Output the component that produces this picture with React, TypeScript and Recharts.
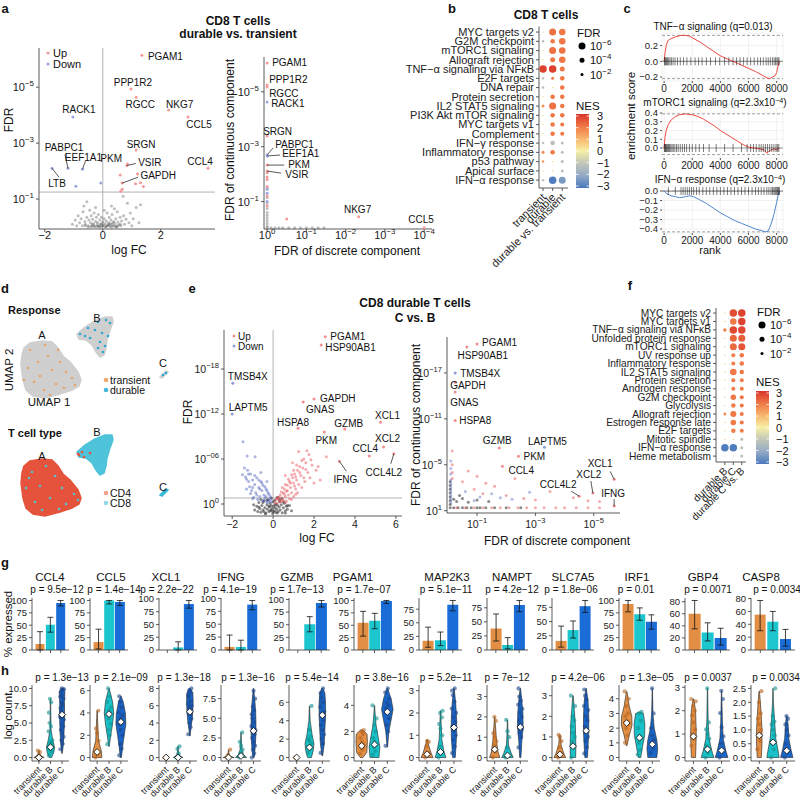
import React from 'react';
import {
  ScatterChart, Scatter, XAxis, YAxis, ReferenceLine, ComposedChart, Line, CartesianGrid,
  BarChart, Bar, ErrorBar, Cell,
} from 'recharts';

const FONT = '"Liberation Sans", Arial, Helvetica, sans-serif';
const INK = '#222';

// ---------- a: CD8 durable vs transient ----------
const aVolGenes = ['PGAM1', 'PPP1R2', 'RGCC', 'NKG7', 'CCL5', 'RACK1', 'SRGN', 'PABPC1', 'EEF1A1', 'LTB', 'PKM', 'VSIR', 'GAPDH', 'CCL4'];
const aVolFC = [1.35, 0.97, 1.15, 2.27, 2.94, -1.03, 1.15, -1.2, -0.7, -1.75, 0.6, 0.83, 0.67, 3.63];
const aVolFDR = [6.14, 4.93, 4.64, 4.18, 3.93, 3.93, 2.75, 2.1, 2.07, 2.1, 1.86, 2.2, 1.57, 2.1];
const aDownGenes = ['RACK1', 'PABPC1', 'EEF1A1', 'LTB'];
const aUpOther = [[0.85, 2.25], [1.2, 1.9], [1.13, 1.55], [1.3, 1.58], [0.67, 1.35], [0.62, 1.28], [1.4, 1.45]];
const aDownOther = [[-0.93, 1.46], [-0.07, 1.57]];
const aGrey = [
  [-1.05, 0.1], [-0.95, 0.25], [-0.9, 0.05], [-0.85, 0.4], [-0.8, 0.15], [-0.75, 0.3], [-0.7, 0.05], [-0.68, 0.55],
  [-0.62, 0.2], [-0.6, 0.1], [-0.55, 0.9], [-0.55, 0.35], [-0.5, 0.05], [-0.48, 0.25], [-0.45, 0.6], [-0.42, 0.15],
  [-0.4, 0.4], [-0.38, 0.05], [-0.35, 0.28], [-0.32, 0.12], [-0.3, 0.5], [-0.28, 0.02], [-0.25, 0.2], [-0.22, 0.35],
  [-0.2, 0.08], [-0.18, 0.15], [-0.15, 0.45], [-0.12, 0.05], [-0.1, 0.25], [-0.08, 0.1], [-0.05, 0.35], [-0.03, 0.02],
  [0, 0.18], [0.02, 0.07], [0.05, 0.3], [0.08, 0.12], [0.1, 0.02], [0.12, 0.22], [0.15, 0.5], [0.18, 0.08],
  [0.2, 0.15], [0.22, 0.35], [0.25, 0.03], [0.28, 0.25], [0.3, 0.1], [0.32, 0.45], [0.35, 0.05], [0.38, 0.2],
  [0.4, 0.65], [0.42, 0.12], [0.45, 0.3], [0.48, 0.03], [0.5, 0.55], [0.52, 0.18], [0.55, 0.08], [0.6, 0.35],
  [0.62, 0.05], [0.65, 0.22], [0.7, 1.1], [0.72, 0.4], [0.75, 0.1], [0.8, 0.28], [0.85, 0.85], [0.9, 0.15],
  [0.95, 0.5], [1.0, 0.05], [1.05, 0.3], [1.15, 0.7], [1.25, 0.15], [1.3, 0.8], [-0.65, 0.75], [0.3, 0.75],
  [0.05, 0.6], [-0.25, 0.7], [-0.15, 0.03], [0.15, 0.04], [-0.35, 0.09], [0.35, 0.15],
  [-0.5, 0.0], [-0.3, 0.03], [-0.1, 0.0], [0.1, 0.0], [0.3, 0.0], [0.5, 0.02], [-0.6, 0.05], [0.6, 0.1],
  [-0.2, 0.02], [0.0, 0.05], [0.2, 0.06], [0.4, 0.04], [-0.4, 0.01], [0.45, 0.0], [-0.05, 0.12], [0.25, 0.12],
];

const aCompGenes = ['PGAM1', 'PPP1R2', 'RGCC', 'RACK1', 'SRGN', 'PABPC1', 'EEF1A1', 'PKM', 'VSIR', 'NKG7', 'CCL5'];
const aCompDisc = [0, 0, 0, 0, 0, 0, 0, 0, 0, 2.33, 4.0];
const aCompCont = [6.05, 5.25, 5.18, 4.63, 3.39, 2.7, 2.66, 2.33, 2.11, 0.45, 0.05];
const aCompUp = [[0, 2.05], [0, 1.9], [0, 1.8], [0, 1.55], [0, 1.2], [0, 0.85], [0.5, 0.36]];
const aCompDown = [[0, 1.45], [0, 1.3], [0, 1.0]];
const aCompGrey = [
  [0, 1.5], [0, 1.15], [0, 0.95], [0, 0.75], [0, 0.6], [0, 0.5], [0, 0.4], [0, 0.3], [0, 0.2], [0, 0.1], [0, 0.05],
  [0.1, 0.05], [0.2, 0.05], [0.3, 0.05], [0.4, 0.05], [0.55, 0.05], [0.7, 0.05], [0.85, 0.05], [1.0, 0.05],
  [1.15, 0.05], [1.3, 0.05], [1.45, 0.05],
];

// ---------- b: hallmark dot plot, CD8 ----------
const bRows = ['MYC targets v2', 'G2M checkpoint', 'mTORC1 signaling', 'Allograft rejection', 'TNF\u2212\u03b1 signaling via NF\u03baB',
  'E2F targets', 'DNA repair', 'Protein secretion', 'IL2 STAT5 signaling', 'PI3K Akt mTOR signaling', 'MYC targets v1',
  'Complement', 'IFN\u2212\u03b3 response', 'Inflammatory response', 'p53 pathway', 'Apical surface', 'IFN\u2212\u03b1 response'];
const bCols = ['transient', 'durable', 'durable vs. transient'];
const bNES = [
  [0.9, -1.2, 0.8, 0.9, 2.8, -1.2, -1.3, 0.8, 1.6, 0.8, 0.9, 0.8, -1.1, 1.7, 1.5, 0.8, -1.1],
  [2.1, 2.0, 2.1, 2.0, 2.8, 1.9, 0.8, 2.0, 2.1, 2.0, 2.0, 2.0, -1.2, 2.0, 0.8, 0.8, -2.9],
  [2.0, 2.0, 2.1, 2.0, 2.0, 2.0, 2.0, 2.0, 2.0, 2.0, 2.0, 2.0, -1.2, -1.2, -1.2, -1.2, -2.3],
];
const bFDR = [
  [0.3, 1.5, 0.3, 0.3, 6.5, 1.5, 1.5, 0.3, 2, 0.3, 0.3, 0.3, 1.5, 2, 1.5, 0.3, 1.5],
  [6, 3.5, 6, 4, 6.5, 2, 0.3, 3.5, 6, 3.5, 3.5, 3.5, 3.5, 3.5, 0.3, 0.3, 6.5],
  [5.5, 5.5, 5.5, 5.5, 4, 3.5, 3.5, 3.5, 3.5, 3.5, 3, 3, 2, 2, 2, 2, 6],
];

// ---------- c: GSEA running scores ----------
const tnfRank = [0, 60, 150, 250, 500, 800, 1200, 1500, 1800, 2200, 2600, 3000, 3500, 4000, 4500, 4900, 5400, 6000, 6500, 7000, 7300, 7500, 7700, 7900, 8000, 8100, 8200];
const tnfES = [0, 0.1, 0.2, 0.26, 0.29, 0.31, 0.33, 0.33, 0.32, 0.28, 0.24, 0.19, 0.13, 0.07, 0.03, 0, -0.04, -0.09, -0.13, -0.18, -0.21, -0.22, -0.2, -0.18, -0.14, -0.06, 0];
const tnfHits = [30, 80, 130, 190, 250, 330, 420, 520, 640, 780, 950, 1150, 1380, 1620, 1900, 2200, 2450, 2700, 3000, 3300, 3650, 3950, 4300, 4600, 4900, 5150, 5400, 5650, 5900, 6150, 6400, 6650, 6850, 7050, 7250, 7400, 7550, 7700, 7820, 7920, 8020, 8100, 8170];
const mtorRank = [0, 60, 150, 300, 500, 800, 1100, 1500, 2000, 2400, 2800, 3200, 3600, 4000, 4400, 4800, 5200, 5600, 6000, 6400, 6800, 7100, 7300, 7500, 7800, 8000, 8200];
const mtorES = [0, 0.12, 0.2, 0.27, 0.32, 0.36, 0.38, 0.39, 0.38, 0.36, 0.33, 0.29, 0.25, 0.2, 0.16, 0.12, 0.08, 0.04, 0.01, 0, -0.01, -0.02, -0.06, -0.03, -0.01, -0.02, 0];
const mtorHits = [20, 60, 100, 150, 200, 260, 320, 390, 470, 560, 650, 760, 880, 1000, 1150, 1300, 1450, 1600, 1800, 2000, 2250, 2500, 2800, 3200, 3700, 4300, 4900, 5500, 5900, 6150, 6350, 6550, 6750, 6900, 7050, 7200, 7350, 7500, 7650, 7800, 7950, 8050, 8150];
const ifnRank = [0, 200, 500, 800, 1100, 1500, 1800, 2100, 2500, 3000, 3500, 4000, 4500, 5000, 5500, 6000, 6500, 7000, 7200, 7400, 7600, 7800, 8000, 8100, 8200];
const ifnES = [0, -0.03, -0.05, -0.06, -0.07, -0.06, -0.05, -0.06, -0.09, -0.13, -0.18, -0.23, -0.27, -0.31, -0.34, -0.37, -0.4, -0.42, -0.43, -0.42, -0.35, -0.25, -0.12, -0.05, 0];
const ifnHits = [300, 800, 1200, 1350, 1500, 1650, 1800, 1950, 2100, 2300, 2500, 2750, 3000, 3250, 3500, 3750, 4000, 4250, 4500, 4750, 5000, 5250, 5500, 5750, 6000, 6250, 6500, 6700, 6900, 7100, 7300, 7450, 7600, 7700, 7800, 7880, 7950, 8020, 8080, 8140, 8190];

// ---------- d: UMAP ----------
const umapA = [[0.4, 5.2], [1.0, 5.7], [2.2, 5.9], [3.2, 5.8], [3.8, 5.2], [4.3, 4.4], [5.0, 3.8], [5.8, 2.8], [6.1, 2.0], [5.9, 1.4], [5.2, 1.0], [4.0, 0.6], [2.5, 0.2], [1.3, 0.4], [0.6, 1.0], [0.3, 2.0], [0.1, 3.5], [0.2, 4.5]];
const umapB = [[5.7, 6.6], [6.5, 7.3], [7.5, 7.9], [8.5, 8.3], [9.2, 8.3], [9.3, 7.8], [9.0, 7.0], [8.7, 6.0], [8.6, 5.2], [8.4, 4.5], [8.0, 4.3], [7.6, 4.8], [7.2, 5.5], [6.6, 6.0], [5.9, 6.1]];
const umapC = [[14.0, 2.3], [14.6, 2.9], [14.8, 2.8], [14.2, 2.2]];
const umapTransient = [[1.0, 5.0], [2.8, 4.4], [1.8, 3.8], [4.0, 3.8], [0.8, 3.2], [3.2, 3.0], [4.6, 2.8], [2.0, 2.4], [5.2, 2.2], [1.4, 1.8], [3.6, 1.6], [4.4, 1.2], [2.4, 1.0], [0.4, 2.0], [3.0, 0.5], [5.5, 1.5], [2.5, 5.5], [3.8, 5.0]];
const umapDurable = [[6.0, 6.6], [6.8, 7.2], [7.8, 7.8], [8.6, 8.0], [9.0, 7.7], [7.5, 7.0], [8.2, 6.7], [8.8, 6.4], [7.0, 6.2], [8.0, 5.8], [8.5, 5.4], [7.8, 5.2], [8.3, 4.8], [6.5, 6.4], [14.3, 2.5], [14.6, 2.7]];
const umapCD8onA = [[1.2, 4.6], [2.6, 5.2], [3.5, 4.2], [0.6, 3.0], [2.0, 3.2], [4.2, 3.0], [5.4, 2.4], [1.5, 1.6], [3.0, 2.0], [4.6, 1.4], [2.2, 0.8], [5.8, 1.8], [0.9, 4.0], [3.9, 0.9]];
const umapCD4onB = [[5.8, 6.4], [6.2, 6.6], [6.4, 6.1], [5.9, 6.3], [7.0, 6.5]];

// ---------- e: CD8 durable C vs B ----------
const eVolGenes = ['PGAM1', 'HSP90AB1', 'TMSB4X', 'LAPTM5', 'GAPDH', 'GNAS', 'HSPA8', 'GZMB', 'PKM', 'XCL1', 'XCL2', 'CCL4', 'CCL4L2', 'IFNG'];
const eVolFC = [2.55, 2.35, -1.97, -2.0, 2.0, 1.47, 1.22, 3.5, 2.5, 5.25, 5.4, 4.7, 5.9, 3.24];
const eVolFDR = [22.3, 21.2, 16.1, 12.0, 14.0, 13.6, 10.1, 10.0, 9.6, 10.9, 7.6, 6.4, 6.7, 5.7];
const eDownGenes = ['TMSB4X', 'LAPTM5'];
const eUp = [
  [0.1, 0.2], [0.15, 0.6], [0.2, 0.1], [0.25, 0.9], [0.3, 0.4], [0.35, 1.2], [0.4, 0.3], [0.45, 0.8], [0.5, 1.5], [0.5, 0.5],
  [0.55, 2.0], [0.6, 1.0], [0.65, 0.4], [0.7, 1.8], [0.7, 2.5], [0.75, 1.2], [0.8, 3.0], [0.8, 0.7], [0.85, 2.2], [0.9, 1.5],
  [0.95, 3.5], [1.0, 2.8], [1.0, 1.0], [1.05, 4.0], [1.1, 2.0], [1.15, 3.2], [1.2, 4.5], [1.2, 1.5], [1.25, 2.6], [1.3, 5.0],
  [1.35, 3.8], [1.4, 2.2], [1.45, 4.8], [1.5, 6.0], [1.55, 3.0], [1.6, 5.5], [1.7, 4.2], [1.75, 6.6], [1.8, 3.5], [1.9, 5.2],
  [2.0, 2.8], [2.1, 4.5], [2.3, 3.2], [2.6, 6.3], [1.25, 7.0], [0.6, 3.8], [0.95, 5.5], [1.65, 7.1],
  [0.3, 0.9], [0.4, 1.6], [0.45, 2.2], [0.55, 1.3], [0.6, 2.6], [0.65, 1.7], [0.75, 3.3], [0.85, 2.8], [0.9, 3.9],
  [1.0, 4.5], [1.05, 2.4], [1.1, 3.6], [1.15, 5.2], [1.3, 4.2], [1.4, 5.8], [1.5, 3.5], [1.6, 4.6], [1.85, 5.9],
  [2.2, 5.0], [0.35, 0.5], [0.2, 0.7], [0.6, 0.2], [0.9, 0.6], [1.1, 1.3],
];
const eDown = [
  [-0.1, 0.3], [-0.15, 1.0], [-0.2, 0.5], [-0.25, 1.5], [-0.3, 0.2], [-0.35, 2.0], [-0.4, 0.8], [-0.45, 1.2], [-0.5, 2.5],
  [-0.5, 0.4], [-0.55, 1.8], [-0.6, 3.0], [-0.65, 1.0], [-0.7, 2.2], [-0.75, 0.6], [-0.8, 3.5], [-0.85, 1.5], [-0.9, 2.6],
  [-0.95, 0.9], [-1.0, 3.2], [-1.05, 1.8], [-1.1, 4.0], [-1.15, 2.3], [-1.2, 3.0], [-1.25, 4.5], [-1.3, 2.0], [-1.35, 3.6],
  [-1.4, 4.8], [-1.47, 8.3], [-1.27, 6.4], [-0.88, 6.3], [-1.5, 3.9], [-0.3, 3.0], [-0.6, 4.2],
  [-0.12, 0.7], [-0.2, 1.3], [-0.3, 1.8], [-0.4, 2.3], [-0.45, 0.5], [-0.55, 2.8], [-0.65, 2.0], [-0.7, 3.2], [-0.8, 1.2],
  [-0.9, 3.8], [-1.0, 2.2], [-1.1, 1.4], [-1.2, 4.0], [-1.3, 3.3], [-1.0, 0.7], [-0.35, 1.0], [-0.25, 0.4],
];
const eGrey = [
  [-0.9, -0.8], [-0.8, -0.3], [-0.75, -1.0], [-0.7, 0.2], [-0.65, -0.6], [-0.6, -1.1], [-0.55, -0.2], [-0.5, -0.8],
  [-0.45, 0.4], [-0.4, -0.5], [-0.35, -1.2], [-0.3, -0.1], [-0.28, -0.7], [-0.25, 0.6], [-0.2, -1.0], [-0.18, -0.4],
  [-0.15, 0.1], [-0.12, -0.9], [-0.1, -0.2], [-0.08, 0.8], [-0.05, -0.6], [-0.02, -1.25], [0, 0.3], [0.02, -0.3],
  [0.05, -0.9], [0.08, 0.5], [0.1, -0.5], [0.12, -1.1], [0.15, 0.0], [0.18, -0.7], [0.2, 0.9], [0.22, -0.2],
  [0.25, -1.0], [0.3, -0.4], [0.32, 0.3], [0.35, -0.8], [0.4, -0.1], [0.45, -1.15], [0.5, -0.5], [0.55, 0.1],
  [0.6, -0.9], [0.65, -0.3], [0.7, -0.7], [0.8, -0.2], [0.9, -0.9], [-0.95, -0.1], [-0.6, 0.6], [0.42, 0.7],
  [-0.38, -1.3], [0.0, -1.0], [0.1, -0.1], [-0.2, -0.3],
  [-0.5, 0.2], [-0.3, 0.5], [0.3, 0.6], [0.5, 0.3], [-0.7, -0.4], [0.7, -0.2], [-0.1, -0.8], [0.2, -1.2], [-0.45, -1.0], [0.6, -1.2],
];

const eCompGenes = ['PGAM1', 'HSP90AB1', 'TMSB4X', 'GAPDH', 'GNAS', 'HSPA8', 'GZMB', 'CCL4', 'LAPTM5', 'PKM', 'XCL1', 'XCL2', 'CCL4L2', 'IFNG'];
const eCompDisc = [1.0, 0.65, 0.25, 0.25, 0.25, 0.25, 1.76, 1.87, 3.31, 2.42, 5.7, 4.97, 4.5, 5.7];
const eCompCont = [20.8, 20.4, 17.0, 15.8, 14.5, 10.8, 7.2, 4.8, 7.3, 6.1, 3.1, 1.3, 0.9, -0.4];
const eCompDownGenes = ['TMSB4X', 'LAPTM5'];
const eCompUp = [
  [0.15, 6.8], [0.15, 5.0], [0.15, 4.0], [0.15, 3.2], [0.7, 4.2], [1.0, 3.5], [1.3, 2.6], [0.9, 1.8], [1.6, 2.2], [2.0, 1.0],
  [0.5, 2.8], [2.6, 0.6], [3.0, 0.4], [3.5, 1.5], [4.3, 0.7], [4.8, 0.3], [5.2, 0.2], [2.3, 3.2], [1.2, 1.2],
  [0.3, -0.6], [0.6, -0.6], [0.9, -0.6], [1.2, -0.6], [1.5, -0.6], [1.8, -0.6], [2.1, -0.6], [2.4, -0.6], [2.7, -0.6],
  [3.0, -0.6], [3.3, -0.6], [3.7, -0.6], [4.0, -0.6], [4.4, -0.6], [4.8, -0.6], [5.2, -0.6],
];
const eCompDown = [
  [0.1, 5.5], [0.1, 4.5], [0.1, 3.8], [0.1, 3.0], [0.1, 2.5], [0.1, 2.0], [0.1, 1.5], [0.1, 1.0], [0.1, 0.5], [0.1, 0.0],
  [0.6, 1.5], [1.1, 0.8], [1.5, 1.2], [2.2, 0.5], [0.9, 0.3], [2.8, 1.4], [1.8, 0.7],
];
const eCompGrey = [
  [0.08, -0.6], [0.08, -0.2], [0.08, 0.3], [0.08, 0.8], [0.08, 1.3], [0.08, 1.8], [0.08, 2.3], [0.08, 2.8],
  [0.2, -0.6], [0.35, -0.6], [0.5, -0.6], [0.65, -0.6], [0.8, -0.6], [1.0, -0.6], [1.1, -0.6], [1.3, -0.6],
  [1.6, -0.6], [2.0, -0.6], [2.5, -0.6], [0.3, 0.2], [0.5, 0.6], [0.7, 0.1], [1.0, 0.4], [1.4, 0.2], [0.4, 1.0], [0.2, 0.5],
];

// ---------- f: hallmark dot plot, durable C vs B ----------
const fRows = ['MYC targets v2', 'MYC targets v1', 'TNF\u2212\u03b1 signaling via NF\u03baB', 'Unfolded protein response', 'mTORC1 signaling',
  'UV response up', 'Inflammatory response', 'IL2 STAT5 signaling', 'Protein secretion', 'Androgen response', 'G2M checkpoint',
  'Glycolysis', 'Allograft rejection', 'Estrogen response late', 'E2F targets', 'Mitotic spindle', 'IFN\u2212\u03b1 response', 'Heme metabolism'];
const fCols = ['durable B', 'durable C', 'durable C vs. B'];
const fNES = [
  [0.8, 0.8, 1.8, 0.8, 0.8, 0.8, 0.8, 0.8, 0.8, 0.8, 0.8, 0.8, 1.7, 0.8, 0.8, 0.8, -2.9, 0.8],
  [2.6, 2.0, 2.7, 2.3, 2.2, 1.9, 1.9, 2.0, 2.0, 1.9, 2.0, 1.9, 2.0, 2.0, 1.9, 0.8, -2.9, 0.8],
  [2.8, 2.8, 2.7, 2.4, 2.5, 2.0, 2.0, 2.0, 1.9, 1.9, 2.0, 2.0, 2.0, 2.0, 1.9, -1.2, -1.2, -1.2],
];
const fFDR = [
  [0.3, 0.3, 2.5, 0.3, 0.3, 0.3, 0.3, 0.3, 0.3, 0.3, 0.3, 0.3, 2, 0.3, 0.3, 0.3, 6.5, 0.3],
  [6.5, 5.5, 6.5, 6, 6, 3, 3, 5.5, 3, 3, 4.5, 3.5, 5, 4.5, 3.5, 0.3, 6.5, 0.3],
  [6.5, 6.5, 6.5, 6, 6, 3.5, 3.5, 3.5, 3, 3, 3, 3, 3, 3, 3, 2, 2, 2],
];

// ---------- g: % expressed ----------
const groups = ['transient', 'durable B', 'durable C'];
const gGenes = ['CCL4', 'CCL5', 'XCL1', 'IFNG', 'GZMB', 'PGAM1', 'MAP2K3', 'NAMPT', 'SLC7A5', 'IRF1', 'GBP4', 'CASP8'];
const gP = ['9.5e\u221212', '1.4e\u221214', '2.2e\u221222', '4.1e\u221219', '1.7e\u221213', '1.7e\u221207', '5.1e\u221211', '4.2e\u221212', '1.8e\u221206', '0.01', '0.0071', '0.0034'];
const gPct = [[12, 51, 95], [16, 100, 97], [0, 5, 90], [6, 6, 88], [0, 51, 93], [55, 59, 99], [17, 18, 83], [38, 9, 80], [16, 35, 77], [93, 72, 57], [60, 29, 20], [55, 44, 17]];
const gLo = [[0, 36, 89], [2, 93, 90], [0, 0, 82], [0, 0, 78], [0, 36, 85], [28, 43, 94], [5, 8, 72], [16, 2, 68], [5, 21, 66], [77, 60, 42], [35, 15, 8], [30, 30, 6]];
const gHi = [[37, 66, 100], [42, 100, 100], [21, 16, 97], [29, 19, 96], [21, 66, 98], [78, 74, 100], [42, 33, 91], [64, 22, 88], [42, 51, 87], [100, 85, 71], [82, 45, 36], [77, 60, 32]];
const gTicks = [
  [0, 25, 50, 75, 100], [0, 25, 50, 75, 100], [0, 25, 50, 75, 100], [0, 25, 50, 75, 100], [0, 25, 50, 75, 100], [0, 25, 50, 75, 100],
  [0, 25, 50, 75], [0, 25, 50, 75], [0, 25, 50, 75], [0, 25, 50, 75, 100], [0, 20, 40, 60, 80], [0, 20, 40, 60, 80],
];

// ---------- h: log counts (violins) ----------
const hP = ['1.3e\u221213', '2.1e\u221209', '1.3e\u221218', '1.3e\u221216', '5.4e\u221214', '3.8e\u221216', '5.2e\u221211', '7e\u221212', '4.2e\u221206', '1.3e\u221205', '0.0037', '0.0034'];
const hMax = [10, 6.2, 8, 8.8, 7.5, 5.3, 3.1, 3.4, 3.35, 4.7, 2.95, 2.5];
const hTicks = [[0, 2.5, 5, 7.5, 10], [0, 2, 4, 6], [0, 2, 4, 6, 8], [0, 2.5, 5, 7.5], [0, 2, 4, 6], [0, 2, 4], [0, 1, 2, 3], [0, 1, 2, 3], [0, 1, 2, 3], [0, 1, 2, 3, 4], [0, 1, 2, 3], [0, 0.5, 1, 1.5, 2, 2.5]];
const hDecimals = [1, 0, 0, 1, 0, 0, 0, 0, 0, 0, 0, 1];
// violin outlines: [value, half width] from bottom to top
const hViolin = [
  [[[0, 0.45], [0.3, 0.15], [0.7, 0.05], [1.0, 0.02]], [[0, 0.1], [0.8, 0.3], [1.5, 0.35], [2.5, 0.2], [4, 0.05], [6, 0.03], [8.5, 0.01]], [[0.6, 0.02], [2, 0.12], [4, 0.18], [6, 0.22], [8, 0.2], [9.5, 0.25], [10, 0.1]]],
  [[[0, 0.4], [0.6, 0.35], [1.5, 0.12], [2.5, 0.08], [4.2, 0.01]], [[1.0, 0.02], [2, 0.15], [3, 0.3], [4, 0.4], [5, 0.3], [6.2, 0.02]], [[0, 0.05], [1, 0.15], [2, 0.28], [3, 0.42], [4, 0.38], [5, 0.2], [5.5, 0.02]]],
  [[[0, 0.04], [0.05, 0.01]], [[0, 0.4], [0.3, 0.1], [0.8, 0.03], [1.3, 0.01]], [[2.5, 0.02], [3.5, 0.1], [4.5, 0.2], [5.5, 0.25], [6.5, 0.28], [7.5, 0.25], [8, 0.05]]],
  [[[0, 0.45], [0.2, 0.1], [0.6, 0.03], [1.0, 0.01]], [[0, 0.45], [0.4, 0.2], [1, 0.08], [2, 0.04], [3.2, 0.01]], [[0, 0.05], [1, 0.12], [2.5, 0.18], [4, 0.2], [5.5, 0.18], [7, 0.12], [8.8, 0.02]]],
  [[[0, 0.04], [0.05, 0.01]], [[0, 0.15], [0.8, 0.3], [1.5, 0.35], [2.5, 0.2], [4, 0.05], [5.6, 0.01]], [[0.2, 0.03], [1.5, 0.15], [3, 0.2], [4.5, 0.25], [6, 0.25], [7, 0.2], [7.5, 0.05]]],
  [[[0, 0.1], [0.4, 0.4], [1.2, 0.45], [1.8, 0.42], [2.1, 0.1]], [[0, 0.35], [0.8, 0.42], [1.5, 0.3], [2.5, 0.12], [3.5, 0.04], [4, 0.01]], [[0.8, 0.02], [2, 0.12], [3, 0.32], [3.7, 0.45], [4.5, 0.3], [5.3, 0.03]]],
  [[[0, 0.45], [0.2, 0.3], [0.5, 0.15], [0.8, 0.02]], [[0, 0.4], [0.3, 0.25], [0.8, 0.1], [1.5, 0.05], [2.1, 0.01]], [[0, 0.1], [0.5, 0.15], [1, 0.2], [1.5, 0.2], [2, 0.18], [2.5, 0.12], [3.1, 0.02]]],
  [[[0, 0.4], [0.3, 0.25], [0.8, 0.15], [1.4, 0.08], [2, 0.01]], [[0, 0.45], [0.2, 0.3], [0.6, 0.08], [1.2, 0.04], [1.85, 0.01]], [[0, 0.05], [0.8, 0.12], [1.5, 0.22], [2.2, 0.2], [2.8, 0.12], [3.4, 0.02]]],
  [[[0, 0.45], [0.2, 0.3], [0.6, 0.1], [1.1, 0.02]], [[0, 0.2], [0.5, 0.22], [1, 0.2], [1.6, 0.18], [2.3, 0.1], [3, 0.02]], [[0, 0.1], [0.6, 0.15], [1.2, 0.2], [2, 0.2], [2.7, 0.15], [3.35, 0.02]]],
  [[[0.8, 0.02], [1.5, 0.2], [2.2, 0.42], [2.8, 0.4], [3.5, 0.2], [4.5, 0.02]], [[0, 0.1], [0.8, 0.25], [1.5, 0.4], [2.3, 0.42], [3.0, 0.3], [3.1, 0.02]], [[0, 0.35], [0.6, 0.42], [1.2, 0.35], [2, 0.15], [3, 0.05], [4.7, 0.01]]],
  [[[0, 0.15], [0.5, 0.18], [1, 0.2], [1.5, 0.18], [2, 0.15], [2.5, 0.03]], [[0, 0.45], [0.3, 0.3], [0.8, 0.12], [1.5, 0.05], [2.95, 0.01]], [[0, 0.45], [0.3, 0.3], [0.8, 0.12], [1.5, 0.06], [2.85, 0.01]]],
  [[[0, 0.15], [0.5, 0.2], [1, 0.2], [1.5, 0.15], [2, 0.08], [2.4, 0.02]], [[0, 0.45], [0.3, 0.35], [0.7, 0.2], [1.3, 0.12], [2, 0.03], [2.5, 0.01]], [[0, 0.45], [0.3, 0.3], [0.7, 0.15], [1.2, 0.1], [1.5, 0.02]]],
];
const hPts = [
  [[0, 0, 0, 0.05, 0.1, 1.0, 0.8], [0.3, 0.8, 1.2, 1.5, 1.5, 1.7, 2.0, 2.2, 2.5, 3.8, 4.5, 5.0, 6.5, 8.0, 8.5], [1.2, 2, 2.5, 3, 3.5, 4, 4.5, 5, 5.5, 6, 6.3, 6.8, 7.2, 7.5, 8, 8.5, 9, 9.5, 9.8, 10, 9.9, 8.8, 7.8, 6.6, 5.8]],
  [[0, 0.3, 0.5, 1.5, 2.2, 2.6, 4.2], [1.2, 2, 2.5, 3, 3.5, 3.8, 4, 4.2, 4.5, 5, 5.5, 6.2], [0.2, 0.8, 1.2, 2, 2.5, 3, 3.2, 3.5, 3.8, 4, 4.5, 5, 5.5]],
  [[0, 0], [0, 0.5, 1.0, 1.3], [2.7, 3.5, 4, 4.5, 5, 5.2, 5.5, 5.8, 6, 6.2, 6.5, 7, 7.2, 7.5, 7.8, 8]],
  [[0, 0, 0.3, 1.0], [0, 0.2, 0.5, 1, 1.5, 2, 3.2], [0, 0.5, 1, 1.5, 2, 2.5, 3, 3.3, 3.5, 4, 4.5, 5, 5.5, 6, 6.5, 7.5, 8.5]],
  [[0, 0], [0.5, 1, 1.2, 1.5, 1.8, 2, 2.3, 3, 5.6], [0.5, 1.5, 2, 2.5, 3, 3.5, 4, 4.5, 5, 5.5, 6, 6.5, 7, 7.5]],
  [[0.3, 0.6, 0.8, 1, 1.2, 1.5, 1.8, 2, 2.1], [0.2, 0.5, 0.8, 1, 1.2, 1.5, 2, 2.5, 3, 4], [0.9, 2, 2.5, 3, 3.5, 3.8, 4, 4.2, 4.5, 5, 5.3]],
  [[0, 0.2, 0.5, 0.7, 0.75], [0, 0.2, 0.5, 1, 1.3, 1.5, 1.8, 2, 2.1], [0.2, 0.5, 0.8, 1, 1.2, 1.4, 1.6, 1.8, 2, 2.2, 2.5, 2.8, 3, 3.1]],
  [[0, 0.3, 0.6, 0.8, 1, 1.2, 1.8, 2], [0, 0.1, 0.5, 1, 1.3, 1.85], [0.5, 1, 1.2, 1.4, 1.6, 1.8, 2, 2.2, 2.4, 2.6, 2.8, 3, 3.4]],
  [[0, 0.2, 0.5, 0.8, 1.0, 1.1], [0, 0.5, 0.8, 1, 1.2, 1.5, 1.8, 2, 2.5, 3], [0.2, 0.5, 0.8, 1, 1.3, 1.5, 1.8, 2, 2.3, 2.5, 2.8, 3, 3.3]],
  [[1, 1.5, 2, 2.3, 2.5, 2.8, 3, 3.5, 4, 4.5], [0.2, 0.5, 1, 1.3, 1.5, 2, 2.5, 3, 3.1], [0.3, 0.6, 0.9, 1.2, 1.5, 2, 3, 4.7]],
  [[0.5, 0.8, 1, 1.2, 1.5, 1.8, 2, 2.2, 2.4, 2.5], [0, 0.2, 0.5, 0.8, 1, 1.2, 1.5, 2.95], [0, 0.3, 0.6, 0.9, 1.3, 1.9, 2.5, 2.85]],
  [[0.3, 0.6, 0.8, 1, 1.2, 1.4, 1.6, 2, 2.4], [0, 0.3, 0.5, 0.8, 1, 1.2, 1.3, 1.5, 2.5], [0, 0.2, 0.5, 0.8, 1, 1.2, 1.4, 1.5]],
];
const hMed = [[0, 1.5, 6.2], [0.5, 3.9, 3.2], [0, 0, 5.3], [0, 0.2, 3.4], [0, 1.1, 4.6], [0.9, 1.0, 3.5], [0.15, 0.25, 1.35], [0.4, 0.1, 1.5], [0.15, 0.55, 1.3], [2.35, 1.35, 0.9], [0.9, 0.35, 0.3], [0.8, 0.55, 0.25]];

// layout of the 12 small g/h panels
const smallLeft = [32, 90, 159, 221, 289, 354, 419, 487, 552, 619, 685, 751];
const smallW = [37, 38, 38, 40, 41, 41, 43, 41, 42, 41, 45, 44];
const gGeneX = [50, 111, 166, 231, 297, 353, 447, 512, 573, 637, 703, 761];
const gPX = [57, 114, 167, 230, 297, 364, 446, 512, 571, 636, 708, 777];
const hPX = [62, 121, 184, 248, 312, 382, 446, 507, 578, 647, 708, 776];
const jitter = [-0.14, 0.06, -0.05, 0.13, 0.0, -0.1, 0.1, -0.02, 0.16, -0.16, 0.04, -0.08];

const groupColors = ['#E28F45', '#1CC6CF', '#1A6DD6'];
const violinFill = ['#E28F45', '#19C2C9', '#1A66C8'];
const violinPt = ['#B8661F', '#12918F', '#1B468C'];

// NES colour scale
const NES_STOPS: [number, string][] = [[-3, '#4A78BD'], [-2, '#93AAC6'], [-1, '#C2C6B8'], [0, '#F6F0A6'], [1, '#F8B66C'], [2, '#EF7846'], [3, '#D83428']];
const hex = (h: string) => [1, 3, 5].map((k) => parseInt(h.slice(k, k + 2), 16));
const nesColor = (v: number) => {
  const s = NES_STOPS;
  if (v <= s[0][0]) return s[0][1];
  if (v >= s[s.length - 1][0]) return s[s.length - 1][1];
  for (let i = 0; i < s.length - 1; i++) {
    const [a, ca] = s[i];
    const [b, cb] = s[i + 1];
    if (v >= a && v <= b) {
      const t = (v - a) / (b - a);
      const A = hex(ca);
      const B = hex(cb);
      return `rgb(${A.map((c, k) => Math.round(c + (B[k] - c) * t)).join(',')})`;
    }
  }
  return s[0][1];
};
const fdrR = (nlog: number) => 0.5 + 0.5 * nlog;

// label placement for gene scatters: [dx, dy, anchor, leader end]
const aVolLab: Record<string, any[]> = {
  PGAM1: [6, 1, 'start'], PPP1R2: [2, -7, 'middle'], RGCC: [4, 7, 'middle'], NKG7: [11, -6, 'middle'],
  CCL5: [11, 7, 'middle'], RACK1: [6, -8, 'middle'], SRGN: [5, -6, 'middle'],
  PABPC1: [-4, -21, 'middle', [-3, -14]], EEF1A1: [1, -12, 'middle', [3, -8]], LTB: [5, 15, 'middle', [7, 9]],
  PKM: [-9, -17, 'middle'], VSIR: [23, -3, 'middle', [9, -2]], GAPDH: [36, -8, 'middle', [16, -6]], CCL4: [-8, -7, 'middle'],
};
const aCompLab: Record<string, any[]> = {
  PGAM1: [5, -1, 'start'], PPP1R2: [2, -6, 'start'], RGCC: [2, 6, 'start'], RACK1: [4, 1, 'start'], SRGN: [-4, -5, 'start'],
  PABPC1: [8, -11, 'start', [6, -7]], EEF1A1: [15, -3, 'start', [13, -1]], PKM: [21, -1, 'start', [17, 0]],
  VSIR: [18, 3, 'start', [14, 2]], NKG7: [-1, -7, 'middle'], CCL5: [-3, -8, 'middle'],
};
const eVolLab: Record<string, any[]> = {
  PGAM1: [5, 0, 'start'], HSP90AB1: [4, 2, 'start'], TMSB4X: [15, -7, 'middle'], LAPTM5: [16, -7, 'middle'],
  GAPDH: [6, -1, 'start'], GNAS: [17, 7, 'middle'], HSPA8: [-5, -6, 'middle'], GZMB: [4, -6, 'middle'], PKM: [2, 8, 'middle'],
  XCL1: [7, -7, 'middle'], XCL2: [4, -9, 'middle'], CCL4: [-4, -8, 'middle'], CCL4L2: [-10, 19, 'middle', [-3, 10]],
  IFNG: [6, 18, 'middle', [7, 10]],
};
const eCompLab: Record<string, any[]> = {
  PGAM1: [5, -1, 'start'], HSP90AB1: [16, 8, 'middle'], TMSB4X: [5, 0, 'start'], GAPDH: [-5, 3, 'start'], GNAS: [-5, 10, 'start'],
  HSPA8: [4, 0, 'start'], GZMB: [-2, -8, 'middle'], CCL4: [6, 4, 'start'], LAPTM5: [3, -6, 'middle'], PKM: [5, 0, 'start'],
  XCL1: [-14, -16, 'middle', [-4, -8]], XCL2: [-4, -19, 'middle', [-2, -12]], CCL4L2: [-21, -12, 'middle', [-8, -5]],
  IFNG: [-1, -13, 'middle', [0, -7]],
};

const toXY = (pts: number[][]) => pts.map(([x, y]) => ({ x, y }));
const NoDot = () => <g />;

const Txt = ({ x, y, children, size = 10, bold = false, anchor = 'middle', rot = 0, color = '#111' }: any) => {
  const tx = anchor === 'start' ? '0' : anchor === 'end' ? '-100%' : '-50%';
  return (
    <div style={{
      position: 'absolute', left: x, top: y, transform: `translate(${tx}, -50%)${rot ? ` rotate(${rot}deg)` : ''}`,
      fontSize: size, fontWeight: bold ? 700 : 400, whiteSpace: 'nowrap', lineHeight: 1, color, fontFamily: FONT,
    }}>{children}</div>
  );
};
const Sup = ({ children }: any) => <sup style={{ fontSize: '0.72em', verticalAlign: '0.45em', lineHeight: 0 }}>{children}</sup>;

const powY = (exp: (v: number) => string, fs = 11) => (p: any) => (
  <text x={p.x} y={p.y} dy={4} textAnchor="end" fontSize={fs} fill={INK} fontFamily={FONT}>
    10<tspan dy={-5} fontSize={fs * 0.72}>{exp(p.payload.value)}</tspan>
  </text>
);
const powX = (exp: (v: number) => string, fs = 11, dy = 5) => (p: any) => (
  <text x={p.x} y={p.y} dy={dy} textAnchor="middle" fontSize={fs} fill={INK} fontFamily={FONT}>
    10<tspan dy={-5} fontSize={fs * 0.72}>{exp(p.payload.value)}</tspan>
  </text>
);
const numX = (fs = 11, dy = 5) => (p: any) => (
  <text x={p.x} y={p.y} dy={dy} textAnchor="middle" fontSize={fs} fill={INK} fontFamily={FONT}>
    {String(p.payload.value).replace('-', '\u2212')}
  </text>
);
const rotTick = (labels: Record<number, string>, fs: number) => (p: any) => (
  <g transform={`translate(${p.x},${p.y})`}>
    <text x={-1} y={0} dy={fs * 0.55} textAnchor="end" transform="rotate(-45)" fontSize={fs} fill={INK} fontFamily={FONT}>
      {labels[p.payload.value]}
    </text>
  </g>
);
const labTick = (labels: string[], fs: number) => (p: any) => (
  <text x={p.x} y={p.y} dy={fs * 0.35} textAnchor="end" fontSize={fs} fill={INK} fontFamily={FONT}>{labels[p.payload.value]}</text>
);

const geneShape = (lab: Record<string, any[]>, r: number, up: string, down: string, fs: number) => (p: any) => {
  const { cx, cy, payload } = p;
  const cfg = lab[payload.name];
  return (
    <g>
      <circle cx={cx} cy={cy} r={r} fill={payload.up ? up : down} />
      {cfg && cfg[3] && <line x1={cx} y1={cy} x2={cx + cfg[3][0]} y2={cy + cfg[3][1]} stroke="#111" strokeWidth={0.7} />}
      {cfg && (
        <text x={cx + cfg[0]} y={cy + cfg[1]} dy={fs * 0.36} textAnchor={cfg[2]} fontSize={fs} fontFamily={FONT} fill="#111">{payload.name}</text>
      )}
    </g>
  );
};

const axisLine = { stroke: '#333', strokeWidth: 0.8 };

// all data lie inside the fixed domains, so no overflow clipping (labels may sit outside the plot box)
function GeneScatter(props: any) {
  const { left, top, width, height, yW, mt, mr, xDomain, yDomain, xTicks, yTicks, xTick, yTick, layers, genes, shape, refX, refY } = props;
  return (
    <div style={{ position: 'absolute', left, top }}>
      <ScatterChart width={width} height={height} margin={{ top: mt, right: mr, bottom: 0, left: 0 }}>
        <XAxis type="number" dataKey="x" domain={xDomain} ticks={xTicks} interval={0} height={36} tickSize={3}
          tick={xTick} axisLine={axisLine} tickLine={axisLine} />
        <YAxis type="number" dataKey="y" domain={yDomain} ticks={yTicks} interval={0} width={yW} tickSize={3}
          tick={yTick} axisLine={axisLine} tickLine={axisLine} />
        {refX !== undefined && <ReferenceLine x={refX} stroke="#aaa" strokeWidth={0.9} />}
        {refY !== undefined && <ReferenceLine y={refY} stroke="#aaa" strokeWidth={0.9} />}
        {layers.map((l: any, i: number) => (
          <Scatter key={i} data={toXY(l.pts)} isAnimationActive={false}
            shape={(p: any) => <circle cx={p.cx} cy={p.cy} r={l.r} fill={l.color} fillOpacity={l.op} />} />
        ))}
        <Scatter data={genes} isAnimationActive={false} shape={shape} />
      </ScatterChart>
    </div>
  );
}

function DotPlot(props: any) {
  const { left, top, rows, cols, nes, fdr, yW, plotW, plotH, mt, xDomain, yDomain, fs, xh } = props;
  const pts: any[] = [];
  cols.forEach((_: string, j: number) => rows.forEach((__: string, i: number) => pts.push({ x: j, y: i, nes: nes[j][i], fdr: fdr[j][i] })));
  const colLabels: Record<number, string> = { 0: cols[0], 1: cols[1], 2: cols[2] };
  return (
    <div style={{ position: 'absolute', left, top }}>
      <ScatterChart width={yW + plotW + 2} height={mt + plotH + xh} margin={{ top: mt, right: 2, bottom: 0, left: 0 }}>
        <XAxis type="number" dataKey="x" domain={xDomain} ticks={[0, 1, 2]} interval={0} height={xh} tickSize={3}
          tick={rotTick(colLabels, fs)} axisLine={axisLine} tickLine={axisLine} allowDataOverflow />
        <YAxis type="number" dataKey="y" domain={yDomain} reversed ticks={rows.map((_: string, i: number) => i)} interval={0}
          width={yW} tickSize={3} tick={labTick(rows, fs)} axisLine={axisLine} tickLine={axisLine} allowDataOverflow />
        <Scatter data={pts} isAnimationActive={false}
          shape={(p: any) => <circle cx={p.cx} cy={p.cy} r={fdrR(p.payload.fdr)} fill={nesColor(p.payload.nes)} />} />
      </ScatterChart>
    </div>
  );
}

const RugTick = (p: any) => <line x1={p.cx} x2={p.cx} y1={p.cy - 4} y2={p.cy + 4} stroke="#000" strokeWidth={0.6} strokeOpacity={0.85} />;
const esFmt = (v: number) => (v < 0 ? '\u2212' : '') + Math.abs(v).toFixed(1);

function Gsea(props: any) {
  const { top, plotH, rank, es, hits, color, yDomain, yTicks, maxEs, minEs } = props;
  const curve = rank.map((r: number, i: number) => ({ x: r, es: es[i] }));
  const rug = hits.map((h: number) => ({ x: h, es: 0 }));
  return (
    <div style={{ position: 'absolute', left: 630, top: top - 6 }}>
      <ComposedChart width={167} height={plotH + 22} margin={{ top: 6, right: 14, bottom: 0, left: 0 }}>
        <CartesianGrid stroke="#ebebeb" strokeWidth={0.7} />
        <XAxis type="number" dataKey="x" domain={[-150, 8450]} ticks={[0, 2000, 4000, 6000, 8000]} interval={0} height={16}
          tickSize={2} axisLine={false} tickLine={{ stroke: '#555' }} tick={{ fontSize: 10, fill: INK, fontFamily: FONT }} allowDataOverflow />
        <YAxis type="number" domain={yDomain} ticks={yTicks} interval={0} width={32} tickSize={2} axisLine={false}
          tickLine={{ stroke: '#555' }} tickFormatter={esFmt} tick={{ fontSize: 9.5, fill: INK, fontFamily: FONT }} allowDataOverflow />
        <ReferenceLine y={maxEs} stroke="#777" strokeDasharray="3 2" strokeWidth={0.7} />
        <ReferenceLine y={minEs} stroke="#777" strokeDasharray="3 2" strokeWidth={0.7} />
        <ReferenceLine y={0} stroke="#999" strokeWidth={1.2} />
        <Scatter data={rug} dataKey="es" isAnimationActive={false} shape={RugTick} />
        <Line data={curve} dataKey="es" type="linear" stroke={color} strokeWidth={0.9} dot={false} isAnimationActive={false} />
      </ComposedChart>
    </div>
  );
}

function Umap({ top, blobColors, overlays }: any) {
  return (
    <div style={{ position: 'absolute', left: 20, top }}>
      <ScatterChart width={160} height={90} margin={{ top: 0, right: 0, bottom: 0, left: 0 }}>
        <XAxis type="number" dataKey="x" domain={[0, 16]} hide allowDataOverflow />
        <YAxis type="number" dataKey="y" domain={[0, 9]} hide allowDataOverflow />
        {[umapA, umapB, umapC].map((poly, k) => (
          <Scatter key={k} data={toXY(poly)} isAnimationActive={false} shape={NoDot}
            line={{ fill: blobColors[k], stroke: blobColors[k], strokeWidth: 1.5 }} lineJointType="linearClosed" />
        ))}
        {overlays.map((o: any, k: number) => (
          <Scatter key={`o${k}`} data={toXY(o.pts)} isAnimationActive={false}
            shape={(p: any) => <circle cx={p.cx} cy={p.cy} r={1.3} fill={o.color} />} />
        ))}
      </ScatterChart>
    </div>
  );
}

function ExprBars({ i }: { i: number }) {
  const data = groups.map((g, k) => ({ g, v: gPct[i][k], err: [gPct[i][k] - gLo[i][k], gHi[i][k] - gPct[i][k]] }));
  const top = Math.max(...gHi[i]) * 1.05;
  return (
    <div style={{ position: 'absolute', left: smallLeft[i] - 34, top: 590 }}>
      <BarChart width={10 + 24 + smallW[i] + 2} height={68} data={data} margin={{ top: 8, right: 2, left: 10, bottom: 0 }} barCategoryGap="5%">
        <XAxis dataKey="g" tickFormatter={() => ''} height={8} tickSize={3} padding={{ left: 3, right: 3 }} axisLine={axisLine} tickLine={axisLine} />
        <YAxis type="number" domain={[0, top]} ticks={gTicks[i]} interval={0} width={24} tickSize={3}
          tick={{ fontSize: 9.5, fill: INK, fontFamily: FONT }} axisLine={axisLine} tickLine={axisLine} allowDataOverflow />
        <Bar dataKey="v" isAnimationActive={false}>
          {data.map((_, k) => <Cell key={k} fill={groupColors[k]} />)}
          <ErrorBar dataKey="err" width={3} stroke="#111" strokeWidth={0.8} />
        </Bar>
      </BarChart>
    </div>
  );
}

function Violins({ i }: { i: number }) {
  const pad = hMax[i] * 0.05;
  const catLabels: Record<number, string> = { 1: 'transient', 2: 'durable B', 3: 'durable C' };
  return (
    <div style={{ position: 'absolute', left: smallLeft[i] - 26 - 45, top: 677 }}>
      <ScatterChart width={45 + 26 + smallW[i] + 2} height={8 + 76 + 40} margin={{ top: 8, right: 2, left: 45, bottom: 0 }}>
        <XAxis type="number" dataKey="x" domain={[0.4, 3.6]} ticks={[1, 2, 3]} interval={0} height={40} tickSize={3}
          tick={rotTick(catLabels, 9)} axisLine={axisLine} tickLine={axisLine} allowDataOverflow />
        <YAxis type="number" dataKey="y" domain={[-pad, hMax[i] + pad]} ticks={hTicks[i]} interval={0} width={26} tickSize={3}
          tickFormatter={(v: number) => v.toFixed(hDecimals[i])} tick={{ fontSize: 9.5, fill: INK, fontFamily: FONT }}
          axisLine={axisLine} tickLine={axisLine} allowDataOverflow />
        {hViolin[i].map((prof, k) => {
          const c = k + 1;
          const outline = [...prof.map(([y, w]) => ({ x: c + w, y })), ...[...prof].reverse().map(([y, w]) => ({ x: c - w, y }))];
          return (
            <Scatter key={`v${k}`} data={outline} isAnimationActive={false} shape={NoDot}
              line={{ fill: violinFill[k], stroke: '#222', strokeWidth: 0.6 }} lineJointType="linearClosed" />
          );
        })}
        {hPts[i].map((vals, k) => (
          <Scatter key={`p${k}`} data={vals.map((y, n) => ({ x: k + 1 + jitter[n % jitter.length], y }))} isAnimationActive={false}
            shape={(p: any) => <circle cx={p.cx} cy={p.cy} r={2.1} fill={violinPt[k]} fillOpacity={0.6} />} />
        ))}
        <Scatter data={hMed[i].map((y, k) => ({ x: k + 1, y }))} isAnimationActive={false}
          shape={(p: any) => (
            <path d={`M${p.cx},${p.cy - 3.4}L${p.cx + 3.4},${p.cy}L${p.cx},${p.cy + 3.4}L${p.cx - 3.4},${p.cy}Z`} fill="#fff" stroke="#000" strokeWidth={0.8} />
          )} />
      </ScatterChart>
    </div>
  );
}

function NesLegend({ x, y, fdrY, barX, barTop, barH, labX }: any) {
  const sizes = [6, 4, 2];
  return (
    <g fontFamily={FONT} fill="#111">
      <text x={x} y={fdrY} dy={4} fontSize={11.5}>FDR</text>
      {sizes.map((s, k) => (
        <g key={k}>
          <circle cx={x + 5} cy={fdrY + 13 + k * 14.3} r={fdrR(s)} fill="#000" />
          <text x={x + 13} y={fdrY + 13 + k * 14.3} dy={4} fontSize={11}>10<tspan dy={-5} fontSize={8}>{`\u2212${s}`}</tspan></text>
        </g>
      ))}
      <text x={x - 1} y={y} dy={4} fontSize={11.5}>NES</text>
      <rect x={barX} y={barTop} width={13} height={barH} fill="url(#nesGrad)" />
      {[3, 2, 1, 0, -1, -2, -3].map((v, k) => {
        const ty = barTop + 2 + (k * (barH - 4)) / 6;
        return (
          <g key={v}>
            <line x1={barX} x2={barX + 2.5} y1={ty} y2={ty} stroke="#fff" strokeWidth={0.8} />
            <line x1={barX + 10.5} x2={barX + 13} y1={ty} y2={ty} stroke="#fff" strokeWidth={0.8} />
            <text x={labX} y={ty} dy={4} fontSize={11}>{v < 0 ? `\u2212${-v}` : v}</text>
          </g>
        );
      })}
    </g>
  );
}

const Overlay = () => (
  <svg width={800} height={802} style={{ position: 'absolute', left: 0, top: 0, pointerEvents: 'none' }}>
    <defs>
      <linearGradient id="nesGrad" x1="0" y1="0" x2="0" y2="1">
        {[...NES_STOPS].reverse().map(([v, c]) => <stop key={v} offset={`${((3 - v) / 6) * 100}%`} stopColor={c} />)}
      </linearGradient>
    </defs>
    <NesLegend x={577} y={106} fdrY={33} barX={576} barTop={114} barH={74} labX={597} />
    <NesLegend x={757} y={382} fdrY={312} barX={756} barTop={391} barH={73} labX={776} />
    <g fontFamily={FONT} fontSize={11} fill="#111">
      <circle cx={48} cy={53} r={1.6} fill="#F39A9A" />
      <text x={53} y={53} dy={4}>Up</text>
      <circle cx={48} cy={64} r={1.6} fill="#9DA6E0" />
      <text x={53} y={64} dy={4}>Down</text>
    </g>
    <g fontFamily={FONT} fontSize={10} fill="#111">
      <circle cx={234} cy={336} r={1.5} fill="#F08F92" />
      <text x={238} y={336} dy={3.6}>Up</text>
      <circle cx={234} cy={346} r={1.5} fill="#8E9CD8" />
      <text x={238} y={346} dy={3.6}>Down</text>
    </g>
    <g fontFamily={FONT} fontSize={10.5} fill="#111">
      <circle cx={106} cy={380} r={2.3} fill="#EDA872" />
      <text x={110} y={380} dy={3.8}>transient</text>
      <circle cx={106} cy={390} r={2.3} fill="#45B8DA" />
      <text x={110} y={390} dy={3.8}>durable</text>
      <circle cx={106} cy={493} r={2.3} fill="#F4A090" />
      <text x={110} y={493} dy={3.8}>CD4</text>
      <circle cx={106} cy={503} r={2.3} fill="#93D9E8" />
      <text x={110} y={503} dy={3.8}>CD8</text>
    </g>
  </svg>
);

export default function App() {
  const up = (list: string[]) => (name: string) => !list.includes(name);
  const aVolData = aVolGenes.map((name, i) => ({ x: aVolFC[i], y: aVolFDR[i], name, up: up(aDownGenes)(name) }));
  const aCompData = aCompGenes.map((name, i) => ({ x: aCompDisc[i], y: aCompCont[i], name, up: up(aDownGenes)(name) }));
  const eVolData = eVolGenes.map((name, i) => ({ x: eVolFC[i], y: eVolFDR[i], name, up: up(eDownGenes)(name) }));
  const eCompData = eCompGenes.map((name, i) => ({ x: eCompDisc[i], y: eCompCont[i], name, up: up(eCompDownGenes)(name) }));
  const negExp = (v: number) => (v === 0 ? '0' : `\u2212${v}`);
  const negExp2 = (v: number) => (v === 0 ? '0' : `\u2212${String(v).padStart(2, '0')}`);

  return (
    <div style={{ position: 'absolute', left: 0, top: 0, width: 800, height: 802, background: '#fff', fontFamily: FONT, overflow: 'hidden' }}>
      {/* panel letters */}
      <Txt x={5} y={8} size={13} bold>a</Txt>
      <Txt x={452} y={8} size={13} bold>b</Txt>
      <Txt x={627} y={8} size={13} bold>c</Txt>
      <Txt x={5} y={288} size={13} bold>d</Txt>
      <Txt x={192} y={288} size={13} bold>e</Txt>
      <Txt x={630} y={285} size={13} bold>f</Txt>
      <Txt x={5} y={562} size={13} bold>g</Txt>
      <Txt x={5} y={670} size={13} bold>h</Txt>

      {/* a */}
      <Txt x={238} y={21} size={12} bold>CD8 T cells</Txt>
      <Txt x={238} y={34} size={12} bold>durable vs. transient</Txt>
      <GeneScatter left={0} top={40} width={218} height={225} yW={39} mt={8} mr={3}
        xDomain={[-2.2, 3.87]} yDomain={[-0.07, 6.4]} xTicks={[-2, 0, 2]} yTicks={[1, 3, 5]}
        xTick={numX(11, 5)} yTick={powY(negExp)} refX={0} refY={1.25}
        layers={[{ pts: aGrey, r: 1.5, color: '#444', op: 0.35 }, { pts: aUpOther, r: 1.5, color: '#F39A9A', op: 1 }, { pts: aDownOther, r: 1.5, color: '#9DA6E0', op: 1 }]}
        genes={aVolData} shape={geneShape(aVolLab, 1.5, '#F39A9A', '#9DA6E0', 10)} />
      <Txt x={9} y={120} size={12} rot={-90}>FDR</Txt>
      <Txt x={129} y={250} size={12}>log FC</Txt>

      <GeneScatter left={222} top={45} width={232} height={220} yW={42} mt={12} mr={22}
        xDomain={[-0.08, 4.2]} yDomain={[0, 6.27]} xTicks={[0, 1, 2, 3, 4]} yTicks={[1, 3, 5]}
        xTick={powX(negExp, 11, 5)} yTick={powY(negExp)}
        layers={[{ pts: aCompGrey, r: 1.5, color: '#444', op: 0.35 }, { pts: aCompUp, r: 1.5, color: '#F39A9A', op: 1 }, { pts: aCompDown, r: 1.5, color: '#9DA6E0', op: 1 }]}
        genes={aCompData} shape={geneShape(aCompLab, 1.5, '#F39A9A', '#9DA6E0', 10)} />
      <Txt x={230} y={140} size={12} rot={-90}>FDR of continuous component</Txt>
      <Txt x={347} y={251} size={12}>FDR of discrete component</Txt>

      {/* b */}
      <Txt x={546} y={15} size={12} bold>CD8 T cells</Txt>
      <DotPlot left={380} top={20} rows={bRows} cols={bCols} nes={bNES} fdr={bFDR} yW={159} plotW={29} plotH={161.5} mt={6.5}
        xDomain={[-0.42, 2.6]} yDomain={[-0.6, 16.85]} fs={11} xh={85} />

      {/* c */}
      <Txt x={713} y={27} size={10}>TNF{'\u2212'}α signaling (q=0.013)</Txt>
      <Gsea top={33} plotH={48} rank={tnfRank} es={tnfES} hits={tnfHits} color="#E8352B" yDomain={[-0.25, 0.36]} yTicks={[-0.2, 0, 0.2]} maxEs={0.33} minEs={-0.22} />
      <Txt x={715} y={103} size={10}>mTORC1 signaling (q=2.3x10<Sup>{'\u2212'}4</Sup>)</Txt>
      <Gsea top={108} plotH={50} rank={mtorRank} es={mtorES} hits={mtorHits} color="#E8352B" yDomain={[-0.114, 0.457]} yTicks={[0, 0.1, 0.2, 0.3, 0.4]} maxEs={0.39} minEs={-0.075} />
      <Txt x={720} y={180} size={10}>IFN{'\u2212'}α response (q=2.3x10<Sup>{'\u2212'}4</Sup>)</Txt>
      <Gsea top={186} plotH={47} rank={ifnRank} es={ifnES} hits={ifnHits} color="#3C78C8" yDomain={[-0.442, 0.053]} yTicks={[-0.4, -0.3, -0.2, -0.1, 0]} maxEs={0} minEs={-0.43} />
      <Txt x={632} y={116} size={11.5} rot={-90}>enrichment score</Txt>
      <Txt x={710} y={250} size={11}>rank</Txt>

      {/* d */}
      <Txt x={8} y={310} size={11} bold anchor="start">Response</Txt>
      <Umap top={310} blobColors={['#CFCFCF', '#CFCFCF', '#CFCFCF']}
        overlays={[{ pts: umapTransient, color: '#E9A46C' }, { pts: umapDurable, color: '#2AA9D2' }]} />
      <Txt x={42} y={335} size={11}>A</Txt>
      <Txt x={97} y={318} size={11}>B</Txt>
      <Txt x={163} y={363} size={11}>C</Txt>
      <Txt x={10} y={370} size={11.5} rot={-90}>UMAP 2</Txt>
      <Txt x={49} y={403} size={11.5}>UMAP 1</Txt>
      <Txt x={8} y={433} size={11} bold anchor="start">T cell type</Txt>
      <Umap top={428} blobColors={['#E5533C', '#4EC3DA', '#38B8D8']}
        overlays={[{ pts: umapCD8onA, color: '#5BBFD2' }, { pts: umapCD4onB, color: '#E5533C' }]} />
      <Txt x={42} y={456} size={11}>A</Txt>
      <Txt x={97} y={432} size={11}>B</Txt>
      <Txt x={163} y={487} size={11}>C</Txt>

      {/* e */}
      <Txt x={415} y={303} size={12} bold>CD8 durable T cells</Txt>
      <Txt x={415} y={318} size={12} bold>C vs. B</Txt>
      <GeneScatter left={180} top={322} width={238} height={230} yW={44} mt={8} mr={16}
        xDomain={[-2.4, 6.3]} yDomain={[-1.6, 23.2]} xTicks={[-2, 0, 2, 4, 6]} yTicks={[0, 6, 12, 18]}
        xTick={numX(10.5, 7)} yTick={powY(negExp2, 10.5)} refX={0} refY={0.8}
        layers={[{ pts: eGrey, r: 1.5, color: '#3a3a3a', op: 0.6 }, { pts: eDown, r: 1.5, color: '#4459B8', op: 0.45 }, { pts: eUp, r: 1.5, color: '#E5484D', op: 0.45 }]}
        genes={eVolData} shape={geneShape(eVolLab, 1.5, '#F08F92', '#8E9CD8', 10)} />
      <Txt x={188} y={412} size={12} rot={-90}>FDR</Txt>
      <Txt x={317} y={538} size={12}>log FC</Txt>

      <GeneScatter left={400} top={330} width={246} height={219} yW={47} mt={7} mr={26}
        xDomain={[-0.03, 5.9]} yDomain={[-1.3, 21.7]} xTicks={[1, 3, 5]} yTicks={[-1, 5, 11, 17]}
        xTick={powX((v) => `\u2212${v}`, 10.5, 10)} yTick={powY((v) => (v < 0 ? String(-v) : `\u2212${v}`), 10.5)}
        layers={[{ pts: eCompGrey, r: 1.5, color: '#3a3a3a', op: 0.6 }, { pts: eCompDown, r: 1.5, color: '#4459B8', op: 0.4 }, { pts: eCompUp, r: 1.5, color: '#E5484D', op: 0.45 }]}
        genes={eCompData} shape={geneShape(eCompLab, 1.5, '#F08F92', '#8E9CD8', 10)} />
      <Txt x={416} y={425} size={12} rot={-90}>FDR of continuous component</Txt>
      <Txt x={557} y={541} size={12}>FDR of discrete component</Txt>

      {/* f */}
      <DotPlot left={556} top={300} rows={fRows} cols={fCols} nes={fNES} fdr={fFDR} yW={160} plotW={30} plotH={154} mt={8}
        xDomain={[-1.05, 2.5]} yDomain={[-0.6, 17.7]} fs={10.2} xh={70} />

      {/* g */}
      {gGenes.map((g, i) => <Txt key={`gt${i}`} x={gGeneX[i]} y={578} size={11.5}>{g}</Txt>)}
      {gP.map((p, i) => <Txt key={`gp${i}`} x={gPX[i]} y={590} size={10}>{`p = ${p}`}</Txt>)}
      {gGenes.map((_, i) => <ExprBars key={`gb${i}`} i={i} />)}
      <Txt x={9} y={624} size={11.5} rot={-90}>% expressed</Txt>

      {/* h */}
      {hP.map((p, i) => <Txt key={`hp${i}`} x={hPX[i]} y={678} size={10}>{`p = ${p}`}</Txt>)}
      {hP.map((_, i) => <Violins key={`hv${i}`} i={i} />)}
      <Txt x={9} y={716} size={11.5} rot={-90}>log count</Txt>

      <Overlay />
    </div>
  );
}
